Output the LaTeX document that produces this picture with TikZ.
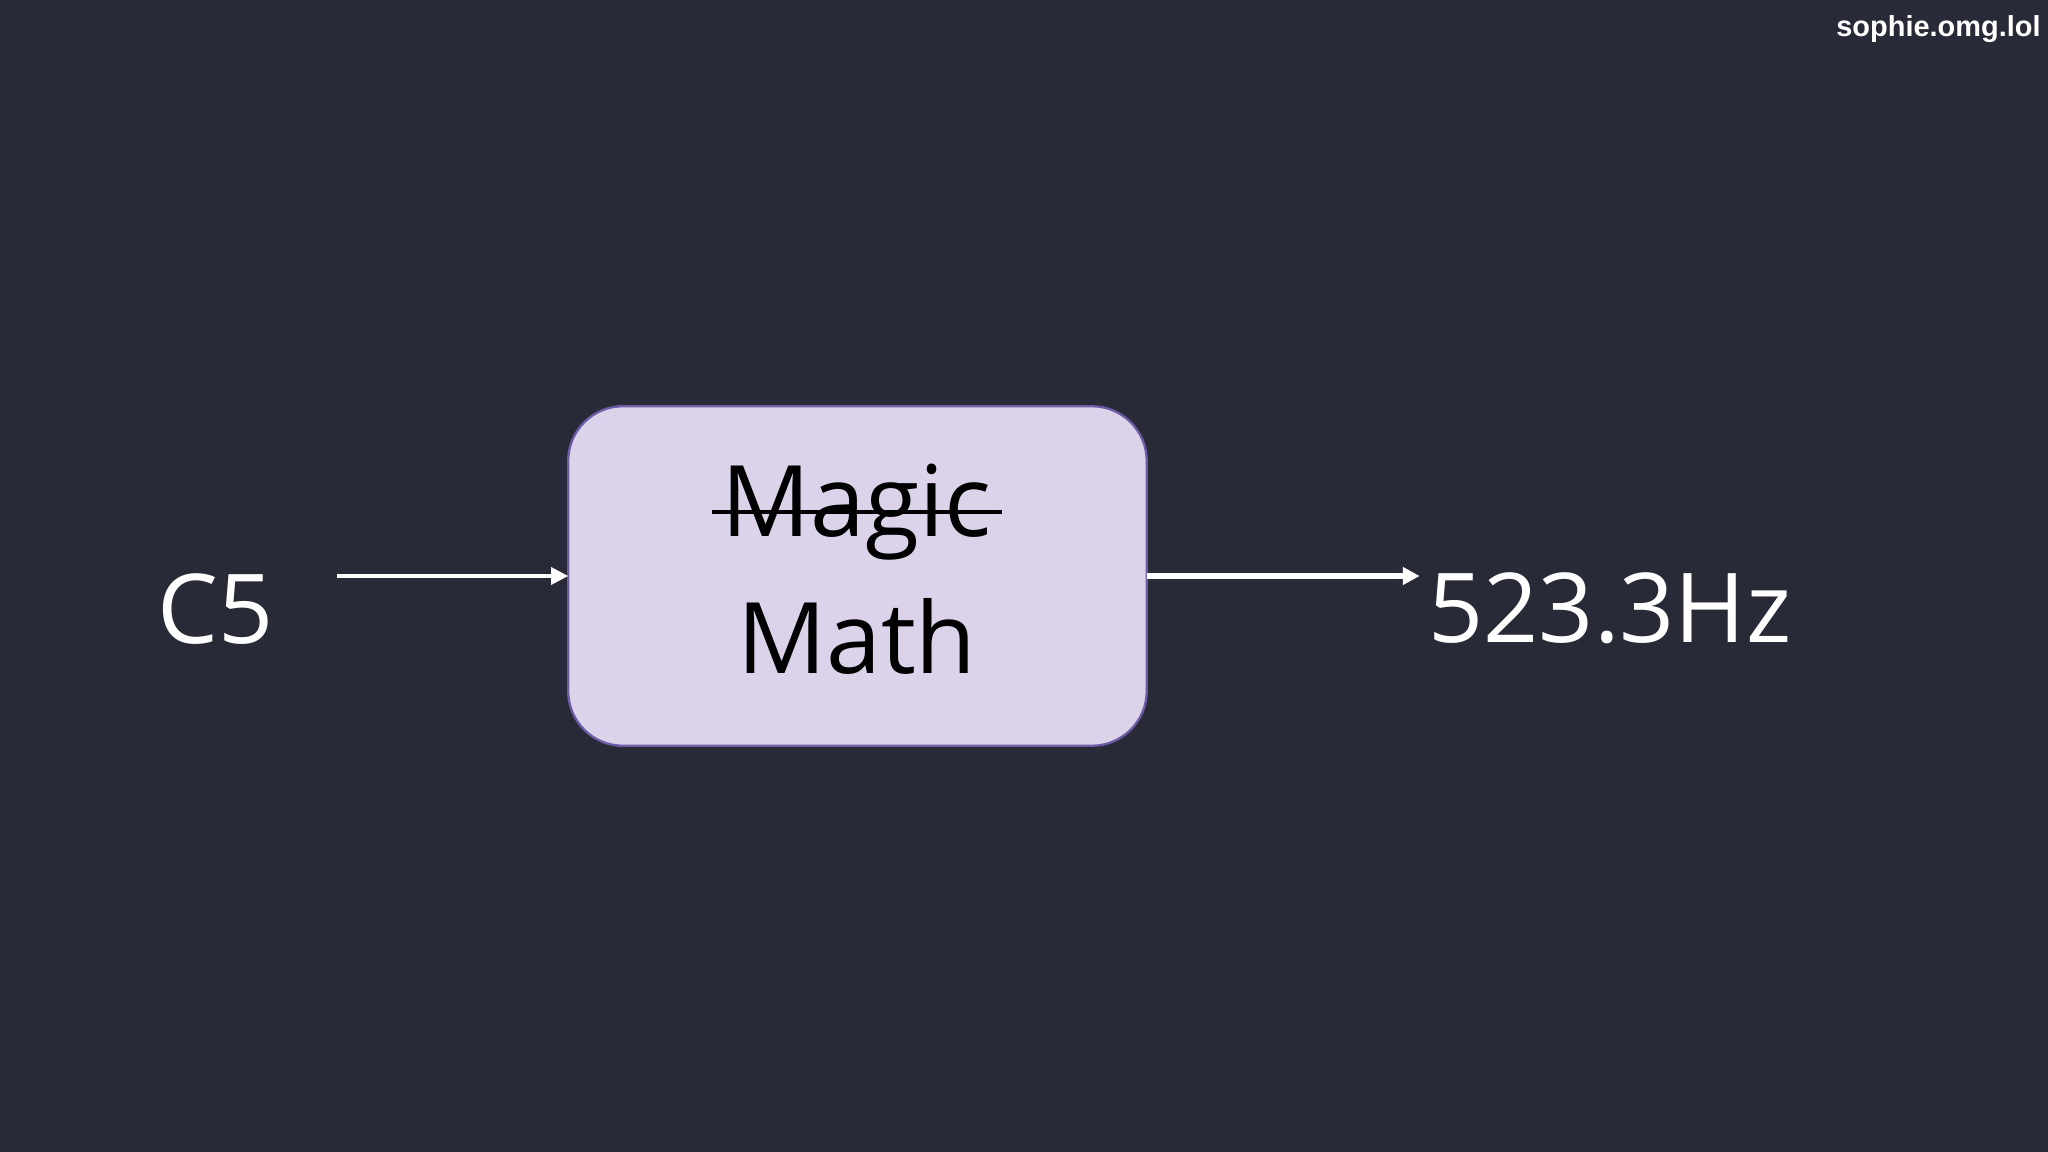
\documentclass[tikz,border=0pt]{standalone}
\usepackage{fontspec}
\setmainfont{Open Sans}
\newfontfamily\wmfont{Liberation Sans}
\usetikzlibrary{arrows.meta}
\definecolor{bg}{HTML}{282A37}
\definecolor{boxfill}{HTML}{DCD3EA}
\definecolor{boxline}{HTML}{6B5CA5}
\tikzset{
  lbl/.style={text=white,font=\fontsize{21}{24}\selectfont,inner sep=0pt},
  conn/.style={draw=white,-{Triangle[length=1.3mm,width=1.3mm]}},
}
\begin{document}
\begin{tikzpicture}[x=0.01cm,y=-0.01cm]
\fill[bg] (0,0) rectangle (1568,882);
\useasboundingbox (0,0) rectangle (1568,882);
\draw[fill=boxfill,draw=boxline,line width=0.5pt,rounded corners=0.42cm] (435,311) rectangle (878,571);
\coordinate (boxW) at (435,441);
\coordinate (boxE) at (878,441);
\node[inner sep=0pt,font=\fontsize{21.5}{24}\selectfont] (magic) at (656,392) {Magic};
\draw[black,line width=1pt] ([xshift=-2pt]magic.west) -- ([xshift=2pt]magic.east);
\node[inner sep=0pt,font=\fontsize{21.5}{24}\selectfont] (math) at (656,487) {Math};
\node[lbl] (c5) at (165,466) {C5};
\node[lbl,anchor=west] (hz) at (1093,466) {523.3Hz};
\coordinate (c5e) at (258,441);
\coordinate (hzw) at (1087,441);
\draw[conn,line width=0.7pt] (c5e) -- (boxW);
\draw[conn,line width=1.1pt] (boxE) -- (hzw);
\node[anchor=north east,text=white,inner sep=0pt,font=\wmfont\fontsize{6.3}{8}\selectfont\bfseries] (wm) at (1563,11) {sophie.omg.lol};
\end{tikzpicture}
\end{document}
